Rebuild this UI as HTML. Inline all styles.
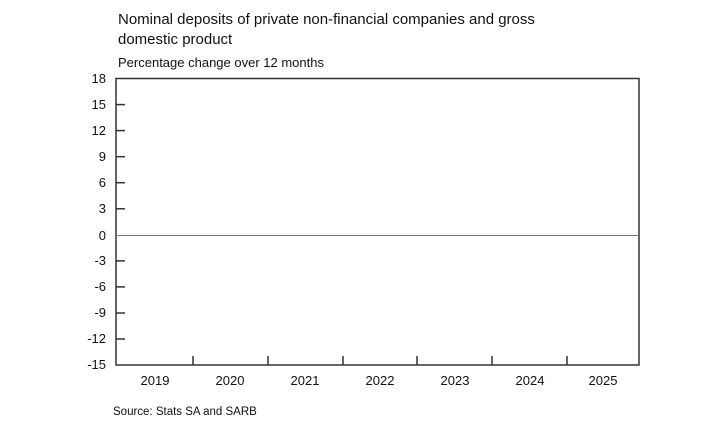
<!DOCTYPE html>
<html><head><style>
body{margin:0;background:#fff;font-family:"Liberation Sans",Arial,sans-serif;}
</style></head><body>
<svg width="720" height="432" xmlns="http://www.w3.org/2000/svg" font-family="Liberation Sans, Arial, sans-serif">
<rect width="720" height="432" fill="#fff"/>
<text x="118" y="24" font-size="15" fill="#111">Nominal deposits of private non-financial companies and gross</text>
<text x="118" y="44" font-size="15" fill="#111">domestic product</text>
<text x="118" y="67" font-size="13" fill="#111">Percentage change over 12 months</text>
<g stroke="#333" stroke-width="1.5" fill="none">
<path d="M116,78.5 H639 V365 H116 Z"/>
</g>
<line x1="116" y1="235.5" x2="639" y2="235.5" stroke="#777" stroke-width="1"/>
<g stroke="#333" stroke-width="1.5">
<line x1="116" y1="104.6" x2="125" y2="104.6"/>
<line x1="116" y1="130.6" x2="125" y2="130.6"/>
<line x1="116" y1="156.7" x2="125" y2="156.7"/>
<line x1="116" y1="182.7" x2="125" y2="182.7"/>
<line x1="116" y1="208.8" x2="125" y2="208.8"/>
<line x1="116" y1="260.9" x2="125" y2="260.9"/>
<line x1="116" y1="286.9" x2="125" y2="286.9"/>
<line x1="116" y1="313" x2="125" y2="313"/>
<line x1="116" y1="339" x2="125" y2="339"/>
<line x1="193" y1="356" x2="193" y2="365"/>
<line x1="268" y1="356" x2="268" y2="365"/>
<line x1="343" y1="356" x2="343" y2="365"/>
<line x1="417" y1="356" x2="417" y2="365"/>
<line x1="492" y1="356" x2="492" y2="365"/>
<line x1="567" y1="356" x2="567" y2="365"/>
</g>
<g font-size="13" fill="#111" text-anchor="end">
<text x="106" y="83">18</text>
<text x="106" y="109">15</text>
<text x="106" y="135">12</text>
<text x="106" y="161">9</text>
<text x="106" y="187">6</text>
<text x="106" y="213">3</text>
<text x="106" y="240">0</text>
<text x="106" y="265">-3</text>
<text x="106" y="291">-6</text>
<text x="106" y="317">-9</text>
<text x="106" y="343">-12</text>
<text x="106" y="369">-15</text>
</g>
<g font-size="13" fill="#111" text-anchor="middle">
<text x="155" y="385">2019</text>
<text x="230" y="385">2020</text>
<text x="305" y="385">2021</text>
<text x="380" y="385">2022</text>
<text x="455" y="385">2023</text>
<text x="530" y="385">2024</text>
<text x="603" y="385">2025</text>
</g>
<text x="113" y="415" font-size="11.5" fill="#111">Source: Stats SA and SARB</text>
</svg>
</body></html>
